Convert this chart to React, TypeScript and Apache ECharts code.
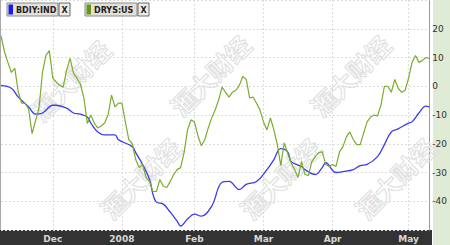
import React, { useEffect, useRef } from "react";
import * as echarts from "echarts";

// ---- data ----
const START = "2007-11-09";
const END = "2008-05-09";
const HOLIDAYS = ["2007-11-22", "2007-12-25", "2008-01-01", "2008-01-21", "2008-02-18", "2008-03-21"];
const MONTHS = ["Jan", "Feb", "Mar", "Apr", "May", "Jun", "Jul", "Aug", "Sep", "Oct", "Nov", "Dec"];

const yTicks = [-40, -30, -20, -10, 0, 10, 20];

const bdiy: [string, number][] = [
  ["2007-11-09", 0.3], ["2007-11-14", -0.7], ["2007-11-16", -3.8], ["2007-11-21", -7.2],
  ["2007-11-26", -9.7], ["2007-11-28", -9.3], ["2007-12-03", -6.6], ["2007-12-04", -6.6],
  ["2007-12-07", -7.6], ["2007-12-11", -9.3], ["2007-12-13", -9.7], ["2007-12-17", -10.7],
  ["2007-12-18", -12.8], ["2007-12-20", -15.9], ["2007-12-24", -16.9], ["2007-12-28", -16.9],
  ["2007-12-31", -18.6], ["2008-01-07", -21], ["2008-01-08", -23.1], ["2008-01-10", -27.2],
  ["2008-01-14", -32.4], ["2008-01-15", -37.6], ["2008-01-16", -40.3], ["2008-01-18", -41],
  ["2008-01-23", -43.8], ["2008-01-25", -46.9], ["2008-01-28", -48.6], ["2008-01-30", -46.2],
  ["2008-02-01", -44.5], ["2008-02-05", -45.2], ["2008-02-08", -41.7], ["2008-02-13", -33.4],
  ["2008-02-15", -33.1], ["2008-02-21", -35.9], ["2008-02-25", -34.1], ["2008-02-28", -33.1],
  ["2008-03-04", -29], ["2008-03-06", -25.5], ["2008-03-10", -21.7], ["2008-03-12", -22.8],
  ["2008-03-13", -26.2], ["2008-03-18", -27.9], ["2008-03-19", -29], ["2008-03-25", -30.7],
  ["2008-03-27", -28.3], ["2008-03-28", -26.6], ["2008-04-02", -30], ["2008-04-04", -29.7],
  ["2008-04-09", -29], ["2008-04-11", -27.6], ["2008-04-15", -27.2], ["2008-04-18", -24.5],
  ["2008-04-22", -20.3], ["2008-04-24", -15.9], ["2008-04-28", -14.8], ["2008-05-01", -12.8],
  ["2008-05-02", -12.4], ["2008-05-06", -9.3], ["2008-05-08", -6.9], ["2008-05-09", -7.2],
];

// DRYS:US, one value per trading day from START to END
const drys = [
  17.6, 12, 8.3, 4.8, 6.2, -2, -5.9, -5.9, -8, -16.5,
  -12, -7.6, 4.8, 10.7, 12.4, 2.8, 1.4, 0.3, -0.3, 5.5,
  9.7, 4.5, 2.8, 0.7, -4.1, -13, -10, -12.8, -14.5, -13.8,
  -12.8, -10, -3.1, -7.2, -5.9, -5.9, -12.4, -18.6, -20, -25.5,
  -28.3, -27.2, -31.7, -33.1, -36.6, -36.6, -32.4, -34.8, -35.2, -33.1,
  -30.7, -29, -28.3, -23.1, -15.2, -11.7, -12.4, -17.2, -20.7, -18.6,
  -14.5, -11, -8.3, -4.8, -0.3, -2.1, -3.8, -2.1, -1.4, 0.3,
  3.4, 2.4, -4.1, -3.8, -5.9, -8.3, -12.4, -15.2, -11, -15.2,
  -20.3, -27.6, -19.7, -23.4, -26.6, -29, -31.7, -26.2, -30.7, -31,
  -26.2, -24.5, -23.1, -22.8, -27.2, -27.9, -27.2, -27.9, -22.8, -21,
  -17.6, -15.9, -18.6, -20.3, -20.3, -16.2, -12.4, -10.7, -10, -10.3,
  -6.6, 0, 0, -2.1, 2.4, -0.7, -2.1, -1.4, 2.8, 8.3,
  10.7, 8.3, 9, 10, 9.7,
];

function tradingDays(): string[] {
  const out: string[] = [];
  const d = new Date(START + "T00:00:00Z");
  const end = new Date(END + "T00:00:00Z");
  while (d <= end) {
    const wd = d.getUTCDay();
    const s = d.toISOString().slice(0, 10);
    if (wd !== 0 && wd !== 6 && !HOLIDAYS.includes(s)) out.push(s);
    d.setUTCDate(d.getUTCDate() + 1);
  }
  return out;
}

export default function App() {
  const ref = useRef<HTMLDivElement>(null);

  useEffect(() => {
    if (!ref.current) return;
    const chart = echarts.init(ref.current, null, { renderer: "svg" });
    const days = tradingDays();
    const isMonthStart = (i: number) => i > 0 && days[i].slice(5, 7) !== days[i - 1].slice(5, 7);

    const wm = (x: number, y: number) => ({
      type: "text",
      x,
      y,
      rotation: Math.PI / 4,
      z: 1,
      silent: true,
      style: {
        text: "滙大财经",
        x: 0,
        y: 0,
        align: "center",
        verticalAlign: "middle",
        font: 'bold 25px "Noto Sans CJK SC"',
        fill: "rgba(255,255,255,0)",
        stroke: "#e2e2e2",
        lineWidth: 1.2,
      },
    });

    const legendBox = (x: number, w: number, color: string, label: string) => [
      { type: "rect", shape: { x, y: 3, width: w, height: 13 }, style: { fill: "#e3e0d8", stroke: "#8a8a8a", lineWidth: 1 }, z: 50 },
      { type: "rect", shape: { x: x + 1.5, y: 4.5, width: 4.5, height: 10 }, style: { fill: color }, z: 51 },
      {
        type: "text", z: 51,
        style: { text: label, x: x + 9, y: 10, verticalAlign: "middle", font: 'bold 8px "DejaVu Sans"', fill: "#222" },
      },
      { type: "rect", shape: { x: x + w + 1, y: 3, width: 11, height: 13 }, style: { fill: "#ecebe6", stroke: "#6a6a6a", lineWidth: 1 }, z: 50 },
      {
        type: "text", z: 51,
        style: { text: "X", x: x + w + 6.5, y: 10, align: "center", verticalAlign: "middle", font: 'bold 8px "DejaVu Sans"', fill: "#222" },
      },
    ];

    chart.setOption({
      animation: false,
      backgroundColor: "#ffffff",
      grid: { left: 1, right: 18, top: 0, bottom: 15, containLabel: false },
      xAxis: {
        type: "category",
        data: days,
        boundaryGap: false,
        axisLine: { show: false },
        axisTick: { show: false },
        axisLabel: {
          interval: (i: number) => isMonthStart(i),
          formatter: (v: string) => {
            const m = Number(v.slice(5, 7));
            return m === 1 ? v.slice(0, 4) : MONTHS[m - 1];
          },
          color: "#d8d8d8",
          fontSize: 9,
          fontWeight: "bold",
          fontFamily: "DejaVu Sans",
          margin: 4,
        },
        splitLine: {
          show: true,
          interval: (i: number) => isMonthStart(i),
          lineStyle: { color: "#dcdcdc", type: [2, 2], width: 1 },
        },
      },
      yAxis: {
        type: "value",
        position: "right",
        min: -50,
        max: 30,
        interval: 10,
        axisLine: { show: true, lineStyle: { color: "#9a9a9a" } },
        axisTick: { show: false },
        axisLabel: {
          showMinLabel: false,
          showMaxLabel: false,
          formatter: (v: number) => (yTicks.includes(v) ? String(v) : ""),
          color: "#333",
          fontSize: 9,
          fontFamily: "DejaVu Sans",
          margin: 3,
        },
        splitLine: { show: true, lineStyle: { color: "#dcdcdc", type: [2, 2], width: 1 } },
      },
      graphic: {
        elements: [
          { type: "rect", shape: { x: 433, y: 0, width: 17, height: 245 }, style: { fill: "#dfebd5" }, z: -10, silent: true },
          { type: "rect", shape: { x: 0, y: 230, width: 432, height: 15 }, style: { fill: "#333333" }, z: -10, silent: true },
          { type: "line", shape: { x1: 0.5, y1: 0, x2: 0.5, y2: 230 }, style: { stroke: "#aaaaaa", lineWidth: 1 }, z: 5, silent: true },
          wm(70, 80),
          wm(210, 75),
          wm(350, 75),
          wm(140, 178),
          wm(280, 178),
          wm(395, 178),
          ...legendBox(7, 51, "#1a1aee", "BDIY:IND"),
          ...legendBox(85, 52, "#62981c", "DRYS:US"),
        ],
      },
      series: [
        {
          name: "BDIY:IND",
          type: "line",
          data: bdiy,
          showSymbol: false,
          smooth: 0.4,
          lineStyle: { color: "#3b3bf2", width: 1.3 },
          z: 3,
        },
        {
          name: "DRYS:US",
          type: "line",
          data: drys,
          showSymbol: false,
          lineStyle: { color: "#7aad2c", width: 1.2 },
          z: 4,
        },
      ],
    });
    return () => chart.dispose();
  }, []);

  return <div ref={ref} style={{ width: 450, height: 245, position: "absolute", left: 0, top: 0 }} />;
}
